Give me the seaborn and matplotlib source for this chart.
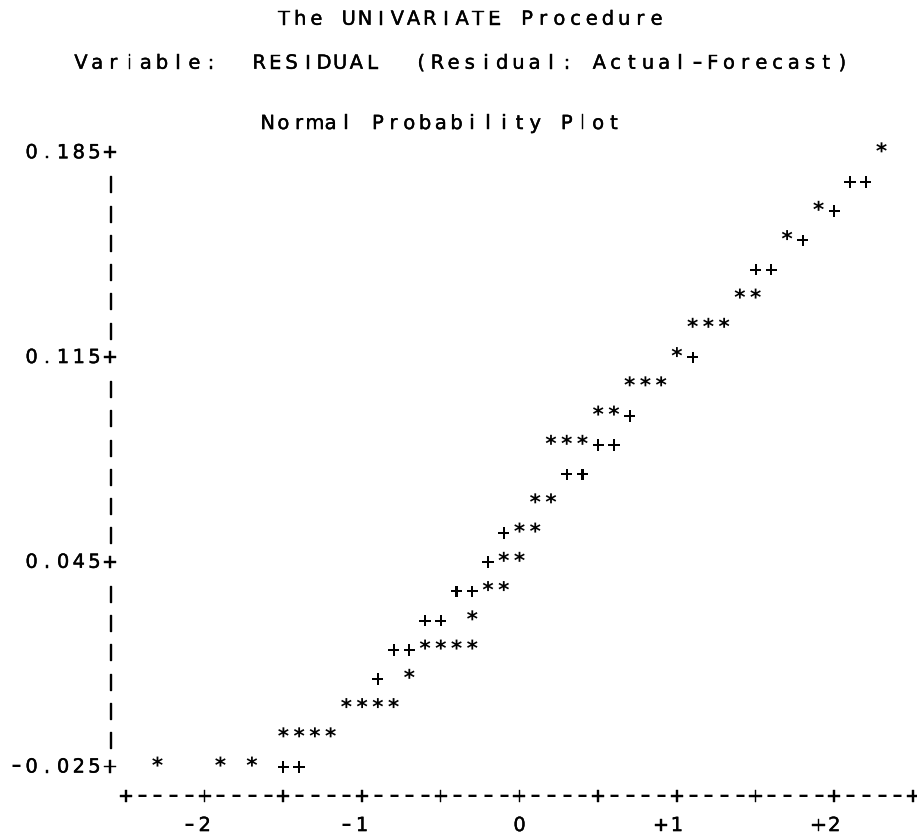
import numpy as np
import pandas as pd
import matplotlib
matplotlib.use("Agg")
import matplotlib.pyplot as plt
import matplotlib.patheffects as pe
import seaborn as sns
from matplotlib.textpath import TextPath
from matplotlib.font_manager import FontProperties
from matplotlib.markers import MarkerStyle
from matplotlib.path import Path

# ---------------- data ----------------
header_line1 = "The UNIVARIATE Procedure"
header_line2 = "Variable:  RESIDUAL  (Residual: Actual-Forecast)"
plot_title = "Normal Probability Plot"

y_ticks = [0.185, 0.115, 0.045, -0.025]
y_tick_labels = ["0.185", "0.115", "0.045", "-0.025"]
x_ticks = [-2, -1, 0, 1, 2]
x_tick_labels = ["-2", "-1", "0", "+1", "+2"]

# observations ('*'): normal quantile and residual
obs_quantile = [2.3, 1.9, 1.7, 1.4, 1.5, 1.1, 1.2, 1.3, 1.0, 0.7, 0.8, 0.9,
                0.5, 0.6, 0.2, 0.3, 0.4, 0.1, 0.2, 0.0, 0.1, -0.1, 0.0,
                -0.2, -0.1, -0.3, -0.6, -0.5, -0.4, -0.3, -0.7,
                -1.1, -1.0, -0.9, -0.8, -1.5, -1.4, -1.3, -1.2,
                -2.3, -1.9, -1.7]
obs_residual = [0.185, 0.165, 0.155, 0.135, 0.135, 0.125, 0.125, 0.125, 0.115,
                0.105, 0.105, 0.105, 0.095, 0.095, 0.085, 0.085, 0.085,
                0.065, 0.065, 0.055, 0.055, 0.045, 0.045, 0.035, 0.035,
                0.025, 0.015, 0.015, 0.015, 0.015, 0.005,
                -0.005, -0.005, -0.005, -0.005, -0.015, -0.015, -0.015, -0.015,
                -0.025, -0.025, -0.025]

# reference normal line ('+')
ref_quantile = [2.1, 2.2, 2.0, 1.8, 1.5, 1.6, 1.1, 0.7, 0.5, 0.6, 0.3, 0.4,
                -0.1, -0.2, -0.4, -0.3, -0.6, -0.5, -0.8, -0.7, -0.9, -1.5, -1.4]
ref_residual = [0.175, 0.175, 0.165, 0.155, 0.145, 0.145, 0.115, 0.095, 0.085,
                0.085, 0.075, 0.075, 0.055, 0.045, 0.035, 0.035, 0.025, 0.025,
                0.015, 0.015, 0.005, -0.025, -0.025]

obs = pd.DataFrame({"quantile": obs_quantile, "residual": obs_residual})
ref = pd.DataFrame({"quantile": ref_quantile, "residual": ref_residual})

# ---------------- layout (character grid) ----------------
W, H = 917, 838
PX0 = 126.0      # pixel centre of the grid column 0 (left end of x axis)
CW = 15.74       # character cell width (px)
B0 = 158.3       # baseline pixel (from top) of the 0.185 row
RH = 29.25       # row height (px) = 0.01 residual units
FS = 14.0
DASH_FS = 22.0
BAR_FS = 11.5
FAMILY = "DejaVu Sans"
EFFECT = [pe.withStroke(linewidth=0.3, foreground="black")]
BAR_EFFECT = [pe.withStroke(linewidth=1.0, foreground="black")]

sns.set_theme(style="white")
plt.rcParams["font.family"] = [FAMILY]

fig = plt.figure(figsize=(W / 100, H / 100), dpi=100)
ax = fig.add_axes([0, 0, 1, 1])
ax.set_xlim((0 - PX0) / (10 * CW) - 2.5, (W - PX0) / (10 * CW) - 2.5)
ax.set_ylim(0.185 - (H - B0) / (RH * 100), 0.185 + B0 / (RH * 100))
ax.axis("off")

DASH_DROP = 1.8  # px: lower the enlarged hyphen so it sits mid-height
BAR_DROP = 1.0


def col_q(c):
    return (c - 25) / 10.0


def draw_char(ch, xf, ybase_px):
    """xf: x in figure fraction, ybase_px: baseline in pixels from top."""
    if ch == "-":
        fig.text(xf, 1 - (ybase_px + DASH_DROP) / H, ch, ha="center",
                 va="baseline", fontsize=DASH_FS, family=FAMILY,
                 color="black")
    elif ch == "|":
        fig.text(xf, 1 - (ybase_px + BAR_DROP) / H, ch, ha="center",
                 va="baseline", fontsize=BAR_FS, family=FAMILY,
                 color="black", path_effects=BAR_EFFECT)
    else:
        fig.text(xf, 1 - ybase_px / H, ch, ha="center", va="baseline",
                 fontsize=FS, family=FAMILY, color="black",
                 path_effects=EFFECT)


def put(s, col0, yval):
    for i, ch in enumerate(s):
        if ch == " ":
            continue
        xd, yd = ax.transData.transform((col_q(col0 + i), yval))
        draw_char(ch, xd / W, H - yd)


def put_px(s, x0, step, ybase):
    for i, ch in enumerate(s):
        if ch == " ":
            continue
        draw_char(ch, (x0 + i * step) / W, ybase)


def glyph_marker(ch, size, weight):
    fp = FontProperties(family=FAMILY, size=size, weight=weight)
    tp = TextPath((0, 0), ch, size=size, prop=fp)
    verts = tp.vertices.copy()
    ext = tp.get_extents()
    verts[:, 0] -= (ext.x0 + ext.x1) / 2
    r = np.max(np.abs(verts))
    return MarkerStyle(Path(verts, tp.codes)), (2 * r) ** 2


star_m, star_s = glyph_marker("*", 15.5, "bold")
plus_m, plus_s = glyph_marker("+", 13.0, "bold")

sns.scatterplot(data=ref, x="quantile", y="residual", marker=plus_m, s=plus_s,
                color="black", edgecolor="none", linewidth=0, ax=ax, legend=False)
sns.scatterplot(data=obs, x="quantile", y="residual", marker=star_m, s=star_s,
                color="black", edgecolor="none", linewidth=0, ax=ax, legend=False)

# headers
put_px(header_line1, 284, 16.2, 24.7)
put_px(header_line2, 81, 16.2, 68.7)
put(plot_title, 9, 0.195)

# vertical axis
for k in range(22):
    v = round(0.185 - 0.01 * k, 3)
    if any(abs(v - t) < 1e-9 for t in y_ticks):
        continue
    put("|", -1, v)
for t, lab in zip(y_ticks, y_tick_labels):
    put(lab + "+", -1 - len(lab), t)

# horizontal axis
axis_str = "".join("+" if c % 5 == 0 else "-" for c in range(51))
put(axis_str, 0, -0.035)
for t, lab in zip(x_ticks, x_tick_labels):
    c = 25 + 10 * t
    put(lab, c - len(lab) + 1, -0.045)

fig.savefig("out.png", dpi=100)
